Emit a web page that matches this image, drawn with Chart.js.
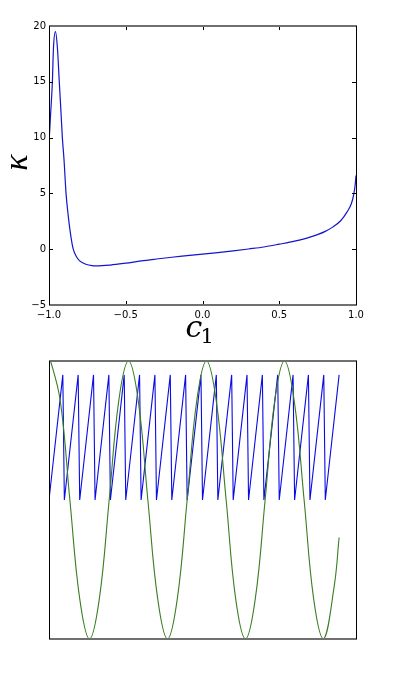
<!DOCTYPE html>
<html>
<head>
<meta charset="utf-8">
<script src="https://cdn.jsdelivr.net/npm/chart.js@4.4.1/dist/chart.umd.min.js"></script>
<style>
  html, body { margin: 0; padding: 0; background: #fff; }
  body { width: 396px; height: 684px; position: relative; overflow: hidden; }
  canvas { position: absolute; left: 0; }
  #kappaChart { top: 0; }
  #waveChart { top: 345px; }
</style>
</head>
<body>
<canvas id="kappaChart" width="396" height="345"></canvas>
<canvas id="waveChart" width="396" height="339"></canvas>
<script>
// top panel: kappa against c1
const c1Values = [-1.0, -0.99, -0.978, -0.971, -0.958, -0.945, -0.933, -0.922, -0.913, -0.902,
    -0.889, -0.874, -0.858, -0.842, -0.82, -0.8, -0.76, -0.72, -0.69, -0.6,
    -0.5, -0.4, -0.3, -0.2, -0.1, 0.0, 0.1, 0.2, 0.3, 0.4,
    0.5, 0.6, 0.7, 0.8, 0.85, 0.9, 0.94, 0.97, 0.985, 0.995, 1.0];
const kappaValues = [9.5, 12.0, 15.0, 18.0, 19.5, 18.0, 15.0, 12.3, 10.0, 8.0,
    5.0, 2.9, 1.2, 0.0, -0.7, -1.05, -1.35, -1.48, -1.5, -1.42,
    -1.25, -1.05, -0.88, -0.72, -0.58, -0.44, -0.3, -0.15, 0.02, 0.2,
    0.45, 0.72, 1.08, 1.6, 2.0, 2.55, 3.3, 4.1, 4.9, 5.8, 6.6];

// bottom panel: sawtooth (blue) and wave (green)
const sawX = [0, 45, 50, 95, 100, 145, 150, 195, 200, 245, 250, 295, 300, 345, 350, 395, 400, 445, 450, 495,
    500, 545, 550, 595, 600, 645, 650, 695, 700, 745, 750, 795, 800, 845, 850, 895, 900, 945];
const sawY = [0, 0.9, 0, 0.9, 0, 0.9, 0, 0.9, 0, 0.9, 0, 0.9, 0, 0.9, 0, 0.9, 0, 0.9, 0, 0.9,
    0, 0.9, 0, 0.9, 0, 0.9, 0, 0.9, 0, 0.9, 0, 0.9, 0, 0.9, 0, 0.9, 0, 0.9];
const waveX = [0, 5, 37, 68, 100, 132, 164, 196, 227, 259, 291, 322, 354, 386, 418, 450,
    481, 513, 545, 577, 608, 640, 672, 704, 735, 767, 799, 831, 862, 894, 929, 945];
const waveY = [0.99, 1, 0.71, 0, -0.71, -1, -0.71, 0, 0.71, 1, 0.71, 0, -0.71, -1, -0.71, 0,
    0.71, 1, 0.71, 0, -0.71, -1, -0.71, 0, 0.71, 1, 0.71, 0, -0.71, -1, -0.62, -0.27];

const xTicksTop = { min: -1, max: 1, step: 0.5 };
const yTicksTop = { min: -5, max: 20, step: 5 };

function toPoints(xs, ys) {
    return xs.map((x, i) => ({ x: x, y: ys[i] }));
}

function minusSign(s) {
    return String(s).replace('-', '\u2212');
}

// matplotlib style box with inward ticks
const framePlugin = {
    id: 'frame',
    afterDraw(chart, args, opts) {
        const { ctx, chartArea: a, scales } = chart;
        ctx.save();
        if (opts.ticks) {
            ctx.strokeStyle = '#000';
            ctx.lineWidth = 1;
            const len = 4;
            ctx.beginPath();
            scales.x.ticks.forEach(t => {
                if (t.value <= scales.x.min || t.value >= scales.x.max) return;
                const px = Math.round(scales.x.getPixelForValue(t.value)) + 0.5;
                ctx.moveTo(px, a.bottom); ctx.lineTo(px, a.bottom - len);
                ctx.moveTo(px, a.top); ctx.lineTo(px, a.top + len);
            });
            scales.y.ticks.forEach(t => {
                if (t.value <= scales.y.min || t.value >= scales.y.max) return;
                const py = Math.round(scales.y.getPixelForValue(t.value)) + 0.5;
                ctx.moveTo(a.left, py); ctx.lineTo(a.left + len, py);
                ctx.moveTo(a.right, py); ctx.lineTo(a.right - len, py);
            });
            ctx.stroke();
        }
        ctx.lineWidth = 2;
        ctx.strokeStyle = '#707070';
        ctx.beginPath();
        ctx.moveTo(a.left, a.top); ctx.lineTo(a.right + 1, a.top);
        ctx.moveTo(a.left, a.bottom); ctx.lineTo(a.right + 1, a.bottom);
        ctx.stroke();
        ctx.lineWidth = 1;
        ctx.strokeStyle = '#000';
        ctx.beginPath();
        ctx.moveTo(a.left + 0.5, a.top); ctx.lineTo(a.left + 0.5, a.bottom);
        ctx.moveTo(a.right + 0.5, a.top); ctx.lineTo(a.right + 0.5, a.bottom);
        ctx.stroke();
        ctx.restore();
    }
};

// math style axis labels: kappa on the left, c with subscript 1 below
const mathLabels = {
    id: 'mathLabels',
    afterDraw(chart) {
        const { ctx, chartArea: a } = chart;
        const midX = (a.left + a.right) / 2;
        const midY = (a.top + a.bottom) / 2;
        ctx.save();
        ctx.fillStyle = '#000';
        ctx.textBaseline = 'alphabetic';
        ctx.font = 'italic 30px "DejaVu Serif"';
        ctx.fillText('c', midX - 17, a.bottom + 32);
        ctx.font = '21px "DejaVu Serif"';
        ctx.fillText('1', midX - 2, a.bottom + 38);
        ctx.translate(a.left - 22, midY - 3);
        ctx.rotate(-Math.PI / 2);
        ctx.textAlign = 'center';
        ctx.font = 'italic 34px "Liberation Serif"';
        ctx.fillText('\u03ba', 0, 0);
        ctx.restore();
    }
};

const tickFont = { family: 'DejaVu Sans', size: 10 };

new Chart(document.getElementById('kappaChart').getContext('2d'), {
    type: 'line',
    data: {
        datasets: [{
            data: toPoints(c1Values, kappaValues),
            borderColor: '#1414cc',
            borderWidth: 1.2,
            pointRadius: 0,
            fill: false,
            cubicInterpolationMode: 'monotone'
        }]
    },
    options: {
        responsive: false,
        animation: false,
        events: [],
        layout: { padding: { top: 26, right: 40, left: 0, bottom: 0 } },
        plugins: { legend: { display: false }, tooltip: { enabled: false }, frame: { ticks: true } },
        scales: {
            x: {
                type: 'linear',
                min: xTicksTop.min,
                max: xTicksTop.max,
                afterFit: s => { s.height = 40; },
                grid: { display: false, drawTicks: false },
                border: { display: false },
                ticks: {
                    stepSize: xTicksTop.step,
                    padding: 4,
                    color: '#000',
                    font: tickFont,
                    maxRotation: 0,
                    callback: v => minusSign(v.toFixed(1))
                }
            },
            y: {
                type: 'linear',
                min: yTicksTop.min,
                max: yTicksTop.max,
                afterFit: s => { s.width = 49; },
                grid: { display: false, drawTicks: false },
                border: { display: false },
                ticks: {
                    stepSize: yTicksTop.step,
                    padding: 3,
                    color: '#000',
                    font: tickFont,
                    callback: v => minusSign(v)
                }
            }
        }
    },
    plugins: [framePlugin, mathLabels]
});

new Chart(document.getElementById('waveChart').getContext('2d'), {
    type: 'line',
    data: {
        datasets: [{
            data: toPoints(waveX, waveY),
            borderColor: '#3a7d22',
            borderWidth: 1.1,
            pointRadius: 0,
            fill: false,
            tension: 0.4,
            order: 0
        }, {
            data: toPoints(sawX, sawY),
            borderColor: '#0a0ae6',
            borderWidth: 1.1,
            pointRadius: 0,
            fill: false,
            tension: 0,
            order: 1
        }]
    },
    options: {
        responsive: false,
        animation: false,
        events: [],
        layout: { padding: { top: 16, right: 40, left: 49, bottom: 45 } },
        plugins: { legend: { display: false }, tooltip: { enabled: false }, frame: { ticks: false } },
        scales: {
            x: { type: 'linear', min: 0, max: 1000, display: false },
            y: { type: 'linear', min: -1, max: 1, display: false }
        }
    },
    plugins: [framePlugin]
});
</script>
</body>
</html>
